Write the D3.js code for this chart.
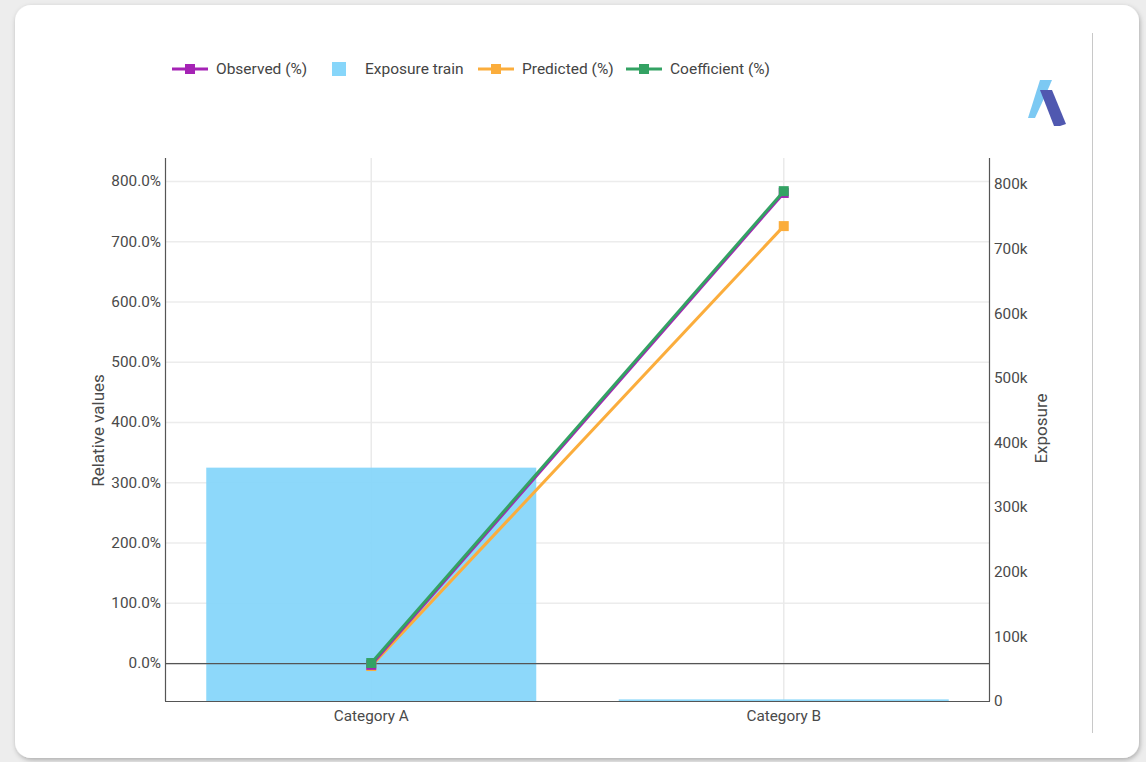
<!DOCTYPE html>
<html>
<head>
<meta charset="utf-8">
<script src="https://cdn.jsdelivr.net/npm/d3@7"></script>
<style>
  html, body { margin: 0; padding: 0; background: #ededed; }
  body { width: 1146px; height: 762px; overflow: hidden; font-family: Roboto, "Noto Sans", sans-serif; }
  svg { display: block; }
</style>
</head>
<body>
<svg id="chart" width="1146" height="762"></svg>
<script>
// Categories and series
const categories = ["Category A", "Category B"];
const exposureTrain = [361000, 2500];
const observed = [-3, 780];
const predicted = [-5, 725];
const coefficient = [0, 783];
const leftTicks = [0, 100, 200, 300, 400, 500, 600, 700, 800];
const rightTicks = [0, 100000, 200000, 300000, 400000, 500000, 600000, 700000, 800000];

const colors = {
  observed: "#a523b5",
  predicted: "#fbad3c",
  coefficient: "#33a263",
  exposure: "#87d6fa"
};

const svg = d3.select("#chart");

// card with soft shadow
const defs = svg.append("defs");
const f = defs.append("filter").attr("id", "shadow").attr("x", "-5%").attr("y", "-5%").attr("width", "110%").attr("height", "110%");
f.append("feDropShadow").attr("dx", 1).attr("dy", 2).attr("stdDeviation", 2.5).attr("flood-color", "#000").attr("flood-opacity", 0.28);
svg.append("rect").attr("x", 15).attr("y", 5).attr("width", 1124).attr("height", 753)
  .attr("rx", 16).attr("fill", "#fff").attr("filter", "url(#shadow)");

// right divider line
svg.append("line").attr("x1", 1092.5).attr("x2", 1092.5).attr("y1", 33).attr("y2", 733)
  .attr("stroke", "#c8c8c8").attr("stroke-width", 1);

// logo
const logo = svg.append("g").attr("transform", "translate(1028,80)");
logo.append("path").attr("d", "M12,0 L24,0 L18,14 L7,38 L0,38 Z").attr("fill", "#7cc9f3");
logo.append("path").attr("d", "M12,10 L24,10 L38,44 L32,46 L26,46 Z").attr("fill", "#5058b0");

const plot = { left: 165, right: 990, top: 158, bottom: 701 };

const x = d3.scaleBand().domain(categories).range([plot.left, plot.right])
  .paddingInner(0.2).paddingOuter(0.1);
const yL = d3.scaleLinear().domain([-63, 838]).range([plot.bottom, plot.top]);
const yR = d3.scaleLinear().domain([0, 840000]).range([plot.bottom, plot.top]);

const g = svg.append("g");

// horizontal gridlines
g.append("g").selectAll("line").data(leftTicks).join("line")
  .attr("x1", plot.left).attr("x2", plot.right)
  .attr("y1", d => yL(d) + 0.5).attr("y2", d => yL(d) + 0.5)
  .attr("stroke", "#ececec").attr("stroke-width", 1.5);

// vertical gridlines at category centres
g.append("g").selectAll("line").data(categories).join("line")
  .attr("x1", d => x(d) + x.bandwidth() / 2).attr("x2", d => x(d) + x.bandwidth() / 2)
  .attr("y1", plot.top).attr("y2", plot.bottom)
  .attr("stroke", "#eaeaea").attr("stroke-width", 1.5);

// bars
g.append("g").selectAll("rect").data(categories).join("rect")
  .attr("x", d => x(d))
  .attr("width", x.bandwidth())
  .attr("y", (d, i) => yR(exposureTrain[i]))
  .attr("height", (d, i) => plot.bottom - yR(exposureTrain[i]))
  .attr("fill", colors.exposure).attr("fill-opacity", 0.95);

// zero line
g.append("line").attr("x1", plot.left).attr("x2", plot.right)
  .attr("y1", yL(0) + 0.5).attr("y2", yL(0) + 0.5)
  .attr("stroke", "#555").attr("stroke-width", 1.2);

// axes
const axisColor = "#555";
const labelColor = "#4a4a4a";
const leftAxis = g.append("g").attr("transform", `translate(${plot.left},0)`)
  .call(d3.axisLeft(yL).tickValues(leftTicks).tickSize(0).tickPadding(4).tickFormat(d => d.toFixed(1) + "%"));
const rightAxis = g.append("g").attr("transform", `translate(${plot.right},0)`)
  .call(d3.axisRight(yR).tickValues(rightTicks).tickSize(0).tickPadding(4).tickFormat(d => d === 0 ? "0" : (d / 1000) + "k"));
const bottomAxis = g.append("g").attr("transform", `translate(0,${plot.bottom})`)
  .call(d3.axisBottom(x).tickSize(0).tickPadding(9));

[leftAxis, rightAxis, bottomAxis].forEach(a => {
  a.select(".domain").attr("stroke", axisColor).attr("stroke-width", 1.2);
  a.selectAll("text").attr("fill", labelColor).attr("font-size", 15.3).attr("font-family", "Roboto, sans-serif");
});
leftAxis.select(".domain").attr("d", `M0.5,${plot.top}V${plot.bottom}`);
rightAxis.select(".domain").attr("d", `M-0.5,${plot.top}V${plot.bottom}`);
bottomAxis.select(".domain").attr("d", `M${plot.left},0.5H${plot.right}`);

// axis titles
svg.append("text").attr("transform", `translate(104,${(plot.top + plot.bottom) / 2 + 1}) rotate(-90)`)
  .attr("text-anchor", "middle").attr("font-size", 17).attr("fill", labelColor).text("Relative values");
svg.append("text").attr("transform", `translate(1047,${(plot.top + plot.bottom) / 2 - 1}) rotate(-90)`)
  .attr("text-anchor", "middle").attr("font-size", 17).attr("fill", labelColor).text("Exposure");

// lines with square markers
const cx = d => x(d) + x.bandwidth() / 2;
const series = [
  { key: "predicted", values: predicted, color: colors.predicted },
  { key: "observed", values: observed, color: colors.observed },
  { key: "coefficient", values: coefficient, color: colors.coefficient }
];
const line = d3.line().x(d => cx(d.c)).y(d => yL(d.v));
series.forEach(s => {
  const pts = categories.map((c, i) => ({ c, v: s.values[i] }));
  g.append("path").datum(pts).attr("d", line).attr("fill", "none")
    .attr("stroke", s.color).attr("stroke-width", 3);
  g.append("g").selectAll("rect").data(pts).join("rect")
    .attr("x", d => cx(d.c) - 5).attr("y", d => yL(d.v) - 5)
    .attr("width", 10).attr("height", 10).attr("fill", s.color);
});

// legend
const legendItems = [
  { label: "Observed (%)", color: colors.observed, type: "line", x: 172 },
  { label: "Exposure train", color: colors.exposure, type: "box", x: 332 },
  { label: "Predicted (%)", color: colors.predicted, type: "line", x: 478 },
  { label: "Coefficient (%)", color: colors.coefficient, type: "line", x: 626 }
];
const lg = svg.append("g").attr("transform", "translate(0,69)");
legendItems.forEach(it => {
  const item = lg.append("g").attr("transform", `translate(${it.x},0)`);
  if (it.type === "line") {
    item.append("line").attr("x1", 0).attr("x2", 36).attr("y1", 0).attr("y2", 0)
      .attr("stroke", it.color).attr("stroke-width", 3);
    item.append("rect").attr("x", 13).attr("y", -5).attr("width", 10).attr("height", 10).attr("fill", it.color);
    item.append("text").attr("x", 44).attr("y", 0).attr("dy", "0.35em")
      .attr("font-size", 15.5).attr("fill", "#444").text(it.label);
  } else {
    item.append("rect").attr("x", 0).attr("y", -7).attr("width", 14).attr("height", 14).attr("fill", it.color);
    item.append("text").attr("x", 33).attr("y", 0).attr("dy", "0.35em")
      .attr("font-size", 15.5).attr("fill", "#444").text(it.label);
  }
});
</script>
</body>
</html>
